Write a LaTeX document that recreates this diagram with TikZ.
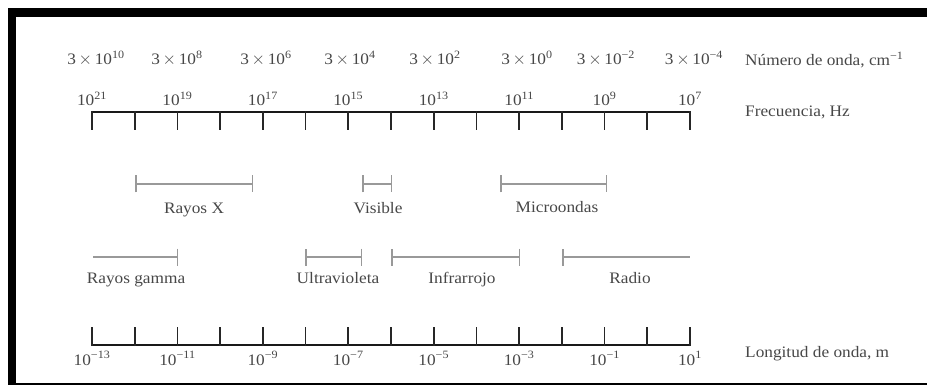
\documentclass[tikz,border=0pt]{standalone}
\usepackage{fontspec}
\setmainfont{Liberation Serif}[FakeStretch=1.08]
\usetikzlibrary{arrows.meta}

\newcommand{\tenp}[1]{10\textsuperscript{#1}}

\begin{document}
\begin{tikzpicture}[
  x=1pt, y=-1pt,
  font=\fontsize{16}{19}\selectfont,
  lbl/.style={text=black!72, inner sep=0pt, anchor=base},
  namelbl/.style={text=black!72, inner sep=0pt, anchor=base west},
  axisline/.style={line width=2.2pt, draw=black!90},
  tickmark/.style={line width=1.8pt, draw=black!85},
  band/.style={line width=1.5pt, draw=gray!80},
  cap/.style={Bar[width=17pt, line width=1.5pt]},
]

\useasboundingbox (0,0) rectangle (927,385);

% Frame (top, left, bottom)
\fill[black] (8,8) rectangle (927,17);
\fill[black] (8,8) rectangle (16,385);
\fill[black] (8,382.7) rectangle (927,385);

% Wave number row
\foreach \e/\xx [count=\k] in {10/96, 8/177, 6/266, 4/350, 2/435, 0/527, −2/606, −4/694}
  \node[lbl] (wn\k) at (\xx,65) {3\,$\times$\,\tenp{\e}};
\node[namelbl] (wnname) at (745,66) {Número de onda, cm\textsuperscript{−1}};

% Frequency axis
\draw[axisline] (92,112) -- (690,112);
\foreach \i in {0,...,14}
  \draw[tickmark] (92+42.714*\i,111) -- ++(0,19);
\foreach \e [count=\k from 0] in {21,19,...,7}
  \node[lbl] (fq\k) at (92+85.43*\k,106) {\tenp{\e}};
\node[namelbl] (fqname) at (745,117) {Frecuencia, Hz};

% Upper bands
\draw[band, {Bar[width=17pt]}-{Bar[width=17pt]}] (135,184) -- (253,184);
\draw[band, {Bar[width=17pt]}-{Bar[width=17pt]}] (362,184) -- (392,184);
\draw[band, {Bar[width=17pt]}-{Bar[width=17pt]}] (500,184) -- (607,184);
\node[lbl] (xray) at (194,213) {Rayos X};
\node[lbl] (vis) at (378,213) {Visible};
\node[lbl] (micro) at (557,212) {Microondas};

% Lower bands
\draw[band, -{Bar[width=17pt]}] (93,257) -- (178,257);
\draw[band, {Bar[width=17pt]}-{Bar[width=17pt]}] (305,257) -- (362,257);
\draw[band, {Bar[width=17pt]}-{Bar[width=17pt]}] (391,257) -- (520,257);
\draw[band, {Bar[width=17pt]}-] (562,257) -- (690,257);
\node[lbl] (gamma) at (136,283) {Rayos gamma};
\node[lbl] (uv) at (338,283) {Ultravioleta};
\node[lbl] (ir) at (462,283) {Infrarrojo};
\node[lbl] (radio) at (630,283) {Radio};

% Wavelength axis
\draw[axisline] (92,345) -- (690,345);
\foreach \i in {0,...,14}
  \draw[tickmark] (92+42.714*\i,346) -- ++(0,-19);
\foreach \e [count=\k from 0] in {−13,−11,−9,−7,−5,−3,−1,1}
  \node[lbl] (wl\k) at (92+85.43*\k,365) {\tenp{\e}};
\node[namelbl] (wlname) at (745,357) {Longitud de onda, m};

\end{tikzpicture}
\end{document}
